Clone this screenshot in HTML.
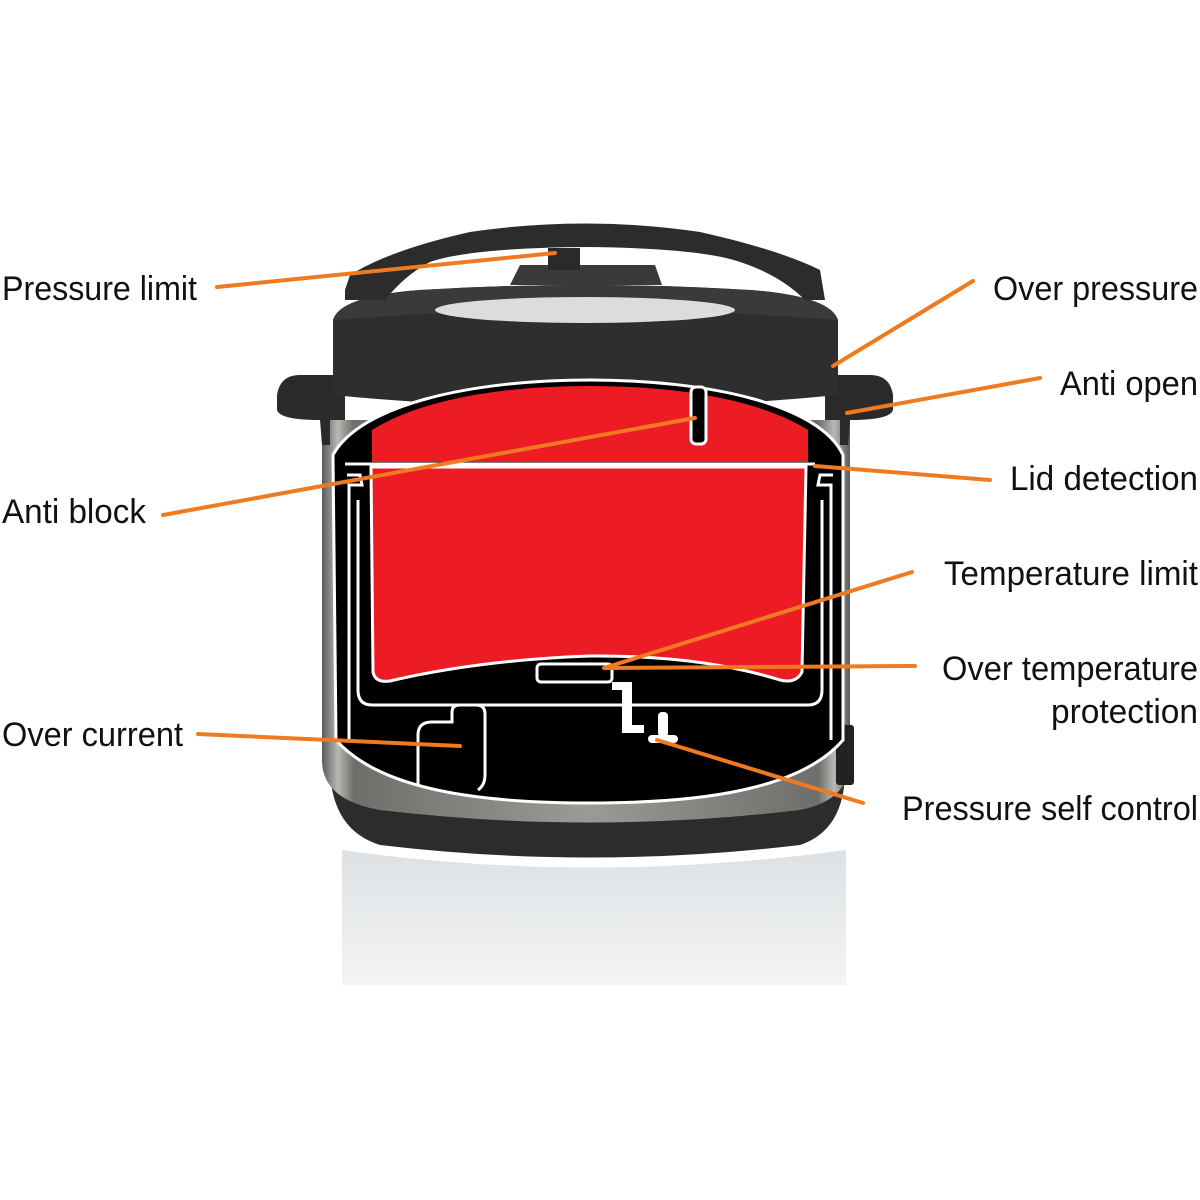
<!DOCTYPE html>
<html><head><meta charset="utf-8"><style>
html,body{margin:0;padding:0;background:#fff;width:1200px;height:1200px;overflow:hidden}
text{font-family:"Liberation Sans",Arial,sans-serif;font-size:34px;fill:#111}
</style></head><body>
<svg width="1200" height="1200" viewBox="0 0 1200 1200" xmlns="http://www.w3.org/2000/svg">
<defs>
<linearGradient id="steel" x1="0" x2="1" y1="0" y2="0">
<stop offset="0" stop-color="#5a5a58"/><stop offset="0.03" stop-color="#b8b8b4"/><stop offset="0.06" stop-color="#6e6e6a"/>
<stop offset="0.5" stop-color="#9a9a96"/><stop offset="0.94" stop-color="#6e6e6a"/><stop offset="0.97" stop-color="#b8b8b4"/><stop offset="1" stop-color="#5a5a58"/>
</linearGradient>
<linearGradient id="refl" x1="0" x2="0" y1="0" y2="1">
<stop offset="0" stop-color="#dde1e3"/><stop offset="1" stop-color="#f3f4f5"/>
</linearGradient>
</defs>
<!-- reflection -->
<path d="M342 850 Q590 885 846 850 L846 985 L342 985 Z" fill="url(#refl)"/>
<!-- base -->
<path d="M330 770 Q332 830 380 845 Q590 870 800 845 Q845 830 845 770 Z" fill="#2c2c2c"/>
<!-- steel body -->
<path d="M322 420 L850 420 L850 760 Q850 800 800 810 Q590 835 380 810 Q322 800 322 760 Z" fill="url(#steel)"/>
<rect x="836" y="725" width="18" height="60" rx="3" fill="#222"/>
<!-- side handles -->
<path d="M277 395 Q280 375 300 375 L345 375 L345 420 L330 420 L330 445 L322 445 L320 420 Q280 420 277 410 Z" fill="#2a2a2a"/>
<path d="M893 395 Q890 375 870 375 L825 375 L825 420 L840 420 L840 445 L848 445 L850 420 Q890 420 893 410 Z" fill="#2a2a2a"/>
<!-- lid -->
<path d="M333 395 L333 320 Q340 296 420 290 Q585 280 750 290 Q830 296 838 320 L838 395 Q585 420 333 395 Z" fill="#2e2e2e"/>
<path d="M333 320 Q340 296 420 290 Q585 280 750 290 Q830 296 838 320 Q585 300 333 320 Z" fill="#3a3a3a"/>
<ellipse cx="585" cy="310" rx="150" ry="13" fill="#dcdcdc"/>
<!-- handle arch -->
<path d="M345 290 L350 275 Q390 250 470 232 Q585 215 700 232 Q780 250 820 270 L825 300 L805 300 Q780 275 740 262 Q700 248 585 247 Q470 248 430 262 Q405 275 385 300 L345 300 Z" fill="#2c2c2c"/>
<path d="M520 265 L655 265 L662 285 L510 285 Z" fill="#3a3a3a"/>
<rect x="548" y="248" width="32" height="22" fill="#2a2a2a"/>
<!-- cutaway black -->
<path d="M333 455 C360 405 470 380 590 380 C710 380 820 405 843 455 L843 740 C800 790 700 803 590 803 C480 803 380 790 336 740 Z" fill="#000" stroke="#fff" stroke-width="3"/>
<!-- red top -->
<path d="M372 430 C420 400 500 386 590 386 C680 386 760 400 808 430 L808 462 L372 462 Z" fill="#ed1c24"/>
<line x1="345" y1="464" x2="815" y2="464" stroke="#fff" stroke-width="3"/>
<!-- red pot -->
<path d="M371 467 L806 467 L802 672 Q796 684 780 680 Q700 655 590 656 Q480 660 390 681 Q375 683 373 672 Z" fill="#ed1c24" stroke="#fff" stroke-width="3"/>
<!-- inner pot walls -->
<path d="M358 500 L358 690 Q358 705 372 705 L808 705 Q822 705 822 690 L822 500" fill="none" stroke="#fff" stroke-width="3"/>
<path d="M347 475 L360 475 L362 485 L349 485 L349 740" fill="none" stroke="#fff" stroke-width="3"/>
<path d="M833 475 L820 475 L818 485 L831 485 L831 740" fill="none" stroke="#fff" stroke-width="3"/>
<!-- anti block slot -->
<rect x="691" y="387" width="15" height="57" rx="5" fill="#000" stroke="#fff" stroke-width="3"/>
<!-- temperature plate -->
<rect x="537" y="664" width="75" height="18" rx="4" fill="#000" stroke="#fff" stroke-width="3"/>
<path d="M612 682 L632 682 L632 725 L644 725 L644 733 L622 733 L622 690 L612 690 Z" fill="#fff"/>
<rect x="658" y="712" width="10" height="25" rx="4" fill="#fff"/>
<rect x="648" y="735" width="30" height="8" rx="4" fill="#fff"/>
<!-- over current hand -->
<path d="M418 785 L418 735 Q418 722 432 722 L452 722 L452 712 Q452 705 460 705 L476 705 Q485 705 485 714 L485 775 Q485 785 478 790" fill="none" stroke="#fff" stroke-width="3"/>
<!-- orange leaders -->
<g stroke="#f07a20" stroke-width="4" stroke-linecap="round" fill="none">
<line x1="217" y1="287" x2="555" y2="253"/>
<line x1="973" y1="281" x2="833" y2="366"/>
<line x1="1040" y1="378" x2="847" y2="413"/>
<line x1="990" y1="480" x2="815" y2="466"/>
<line x1="163" y1="515" x2="695" y2="418"/>
<line x1="912" y1="572" x2="604" y2="668"/>
<line x1="915" y1="666" x2="605" y2="668"/>
<line x1="198" y1="734" x2="460" y2="746"/>
<line x1="863" y1="803" x2="657" y2="740"/>
</g>
<text x="2" y="300" textLength="195" lengthAdjust="spacingAndGlyphs">Pressure limit</text>
<text x="2" y="523" textLength="144" lengthAdjust="spacingAndGlyphs">Anti block</text>
<text x="2" y="746" textLength="181" lengthAdjust="spacingAndGlyphs">Over current</text>
<text x="993" y="300" textLength="205" lengthAdjust="spacingAndGlyphs">Over pressure</text>
<text x="1060" y="395" textLength="138" lengthAdjust="spacingAndGlyphs">Anti open</text>
<text x="1010" y="490" textLength="188" lengthAdjust="spacingAndGlyphs">Lid detection</text>
<text x="944" y="585" textLength="254" lengthAdjust="spacingAndGlyphs">Temperature limit</text>
<text x="942" y="680" textLength="256" lengthAdjust="spacingAndGlyphs">Over temperature</text>
<text x="1051" y="723" textLength="147" lengthAdjust="spacingAndGlyphs">protection</text>
<text x="902" y="820" textLength="296" lengthAdjust="spacingAndGlyphs">Pressure self control</text>
</svg>
</body></html>
